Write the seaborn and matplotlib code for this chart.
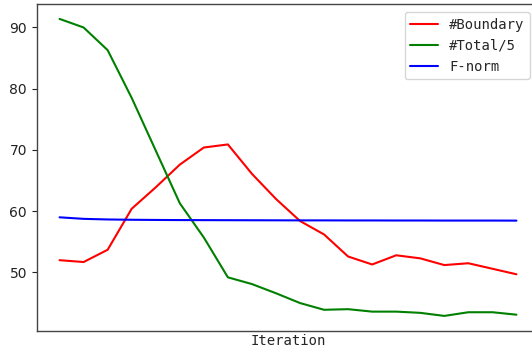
import matplotlib
matplotlib.use("Agg")
from matplotlib import pyplot as plt
import pandas as pd
import seaborn as sns

iteration = list(range(20))
boundary = [52.0, 51.7, 53.7, 60.4, 63.9, 67.6, 70.4, 70.9, 66.1, 62.0,
            58.4, 56.2, 52.6, 51.3, 52.8, 52.3, 51.2, 51.5, 50.6, 49.7]
total_5 = [91.4, 90.0, 86.3, 78.5, 69.9, 61.3, 55.7, 49.2, 48.1, 46.6,
           45.0, 43.9, 44.0, 43.6, 43.6, 43.4, 42.9, 43.5, 43.5, 43.1]
fnorm = [59.0, 58.75, 58.65, 58.6, 58.57, 58.55, 58.54, 58.53, 58.52, 58.51,
         58.5, 58.5, 58.49, 58.49, 58.48, 58.48, 58.47, 58.47, 58.47, 58.46]

series_names = ["#Boundary", "#Total/5", "F-norm"]
series_colors = ["red", "green", "blue"]

df = pd.DataFrame({
    "Iteration": iteration * 3,
    "value": boundary + total_5 + fnorm,
    "series": [s for s in series_names for _ in iteration],
})

sns.set_style("white")
plt.rcParams["font.family"] = ["DejaVu Sans"]

fig = plt.figure(figsize=(5.32, 3.53), dpi=100)
# right spine falls just outside the image, as in the reference
ax = fig.add_axes([0.069, 0.063, 0.9447, 0.9255])
sns.lineplot(data=df, x="Iteration", y="value", hue="series",
             palette=dict(zip(series_names, series_colors)),
             linewidth=1.5, ax=ax)

ax.set_xticks([])
ax.set_yticks([50, 60, 70, 80, 90])
ax.tick_params(axis="y", labelsize=10, length=3.5, left=True, colors="#222222")
ax.set_ylabel("")
ax.set_xlabel("Iteration", family="DejaVu Sans Mono", fontsize=10, labelpad=2)
for sp in ax.spines.values():
    sp.set_color("#444444")
    sp.set_linewidth(1.0)

leg = ax.legend(loc="upper right", bbox_to_anchor=(0.9815, 0.9755), borderaxespad=0,
                prop={"family": "DejaVu Sans Mono", "size": 10},
                handlelength=2.0, frameon=True)
leg.set_title(None)

fig.savefig("out.png", dpi=100)
